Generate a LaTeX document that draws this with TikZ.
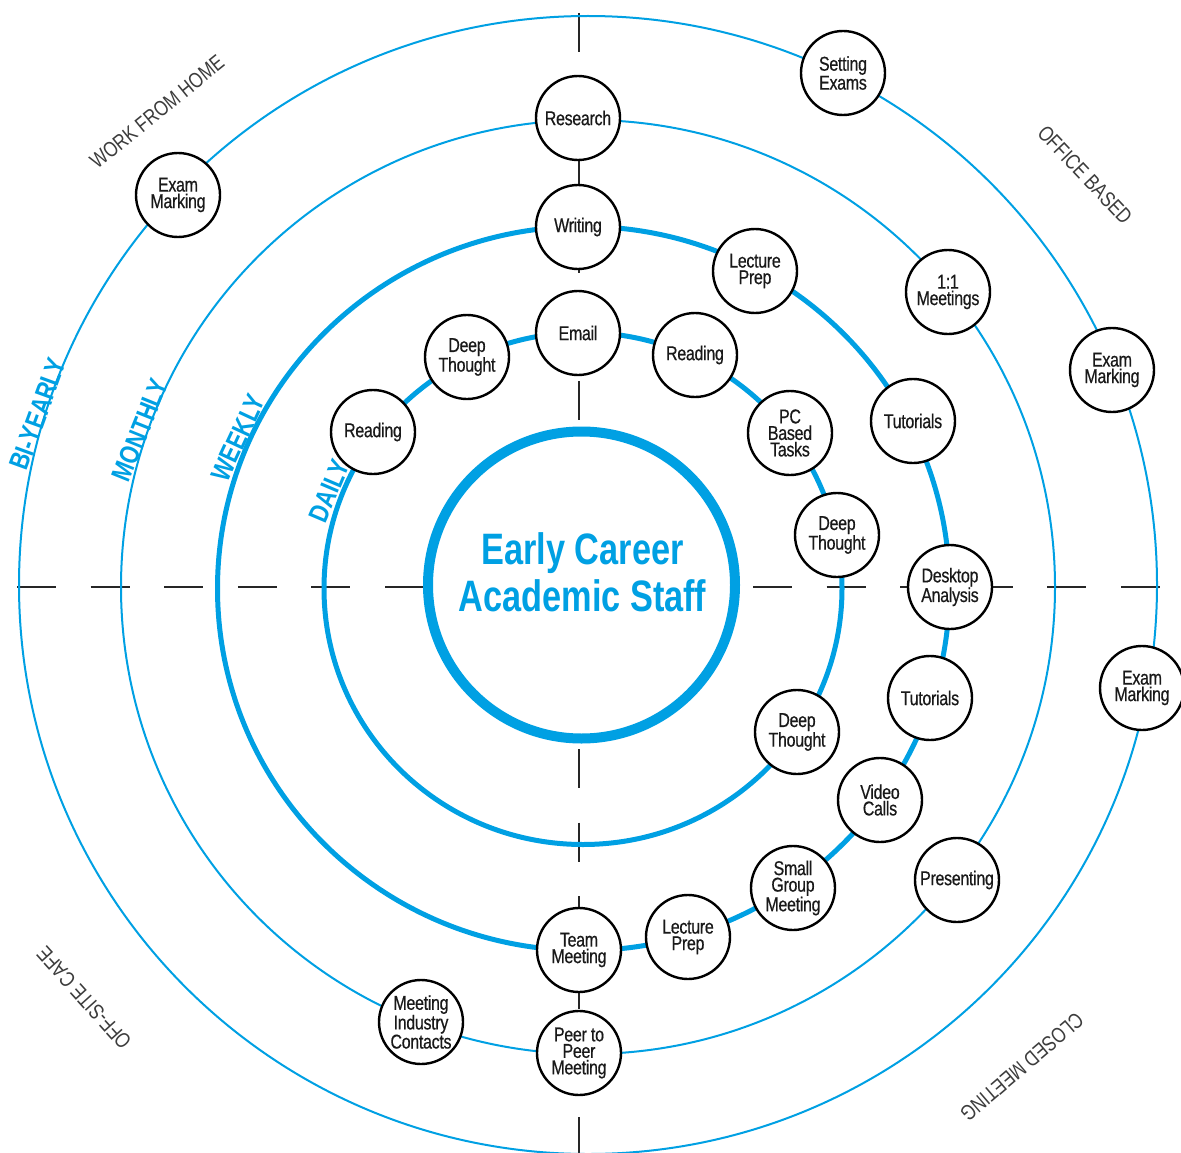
\documentclass[tikz,border=0pt]{standalone}
\usepackage{fontspec}
\setmainfont{Liberation Sans}
\newfontfamily\condfont[FakeStretch=0.8,LetterSpace=-1.5,FakeBold=0.5]{Liberation Sans}
\newfontfamily\tagfont[FakeStretch=0.8]{Liberation Sans}
\newfontfamily\titlefont[FakeStretch=0.78]{Liberation Sans}

\definecolor{ringblue}{RGB}{0,160,227}
\definecolor{labelgray}{RGB}{60,60,60}

\begin{document}
\begin{tikzpicture}[x=1pt,y=1pt,
  activity/.style={circle, draw=black, line width=2.4pt, fill=white,
    minimum size=84pt, inner sep=0pt, align=center, text=black!90,
    font=\condfont\fontsize{20}{16.5}\selectfont},
  ring/.style={draw=ringblue},
  axis/.style={draw=black!85, line width=2.2pt, dash pattern=on 39pt off 34.6pt},
  freq/.style={text=ringblue, inner sep=0pt,
    font=\tagfont\bfseries\fontsize{27.5}{30}\selectfont},
  place/.style={text=labelgray, inner sep=0pt,
    font=\tagfont\fontsize{21.5}{24}\selectfont},
  hubtext/.style={text=ringblue, inner sep=0pt, align=center,
    font=\titlefont\bfseries\fontsize{44}{47}\selectfont},
]
\useasboundingbox (0,0) rectangle (1181,-1153);

% dashed cross through the centre
\coordinate (hL) at (17,-587);
\coordinate (hR) at (1163,-587);
\coordinate (vT) at (579,-13);
\coordinate (vB) at (579,-1165);
\draw[axis] (hL) -- (hR);
\draw[axis] (vT) -- (vB);

% frequency rings
\draw[ring, line width=2pt] (588,-585) circle[radius=569pt];
\draw[ring, line width=2pt] (588,-587) circle[radius=467pt];
\draw[ring, line width=5pt] (583.5,-588.5) ellipse[x radius=366pt, y radius=362pt];
\draw[ring, line width=5pt] (583,-588.5) ellipse[x radius=259pt, y radius=256pt];
\draw[ring, line width=10pt, fill=white] (581.5,-585) circle[radius=153.5pt];

\node[hubtext] (hub) at (582.5,-572.5) {Early Career\\Academic Staff};

% ring names
\node[freq, rotate=70] (lblBiyearly) at (38,-414) {BI-YEARLY};
\node[freq, rotate=68] (lblMonthly) at (140,-430) {MONTHLY};
\node[freq, rotate=65] (lblWeekly) at (238,-438) {WEEKLY};
\node[freq, rotate=67] (lblDaily) at (329,-491) {DAILY};

% places
\node[place, rotate=39] (lblHome) at (157,-112) {WORK FROM HOME};
\node[place, rotate=-46.6] (lblOffice) at (1085,-175) {OFFICE BASED};
\node[place, rotate=220.5] (lblClosed) at (1022,-1067) {CLOSED MEETING};
\node[place, rotate=132] (lblCafe) at (84,-998) {OFF-SITE CAFE};

% activities
\node[activity] (research) at (578,-118) {Research};
\node[activity] (writing) at (578,-227) {Writing};
\node[activity] (email) at (578,-333) {Email};
\node[activity] (deepA) at (467,-357) {Deep\\Thought};
\node[activity] (readingA) at (373,-432) {Reading};
\node[activity] (readingB) at (695,-355) {Reading};
\node[activity] (lectureA) at (755,-271) {Lecture\\Prep};
\node[activity] (pctasks) at (790,-433) {PC\\Based\\Tasks};
\node[activity] (deepB) at (837,-535) {Deep\\Thought};
\node[activity] (tutorialsA) at (913,-421) {Tutorials};
\node[activity] (oneone) at (948,-292) {1:1\\Meetings};
\node[activity] (setting) at (843,-73) {Setting\\Exams};
\node[activity] (markingA) at (1112,-370) {Exam\\Marking};
\node[activity] (markingB) at (178,-195) {Exam\\Marking};
\node[activity] (desktop) at (950,-587) {Desktop\\Analysis};
\node[activity] (tutorialsB) at (930,-698) {Tutorials};
\node[activity] (markingC) at (1142,-688) {Exam\\Marking};
\node[activity] (deepC) at (797,-732) {Deep\\Thought};
\node[activity] (video) at (880,-800) {Video\\Calls};
\node[activity] (presenting) at (957,-880) {Presenting};
\node[activity] (smallgroup) at (793,-888) {Small\\Group\\Meeting};
\node[activity] (lectureB) at (688,-937) {Lecture\\Prep};
\node[activity] (team) at (579,-950) {Team\\Meeting};
\node[activity] (peer) at (579,-1053) {Peer to\\Peer\\Meeting};
\node[activity] (industry) at (421,-1022) {Meeting\\Industry\\Contacts};
\end{tikzpicture}
\end{document}
